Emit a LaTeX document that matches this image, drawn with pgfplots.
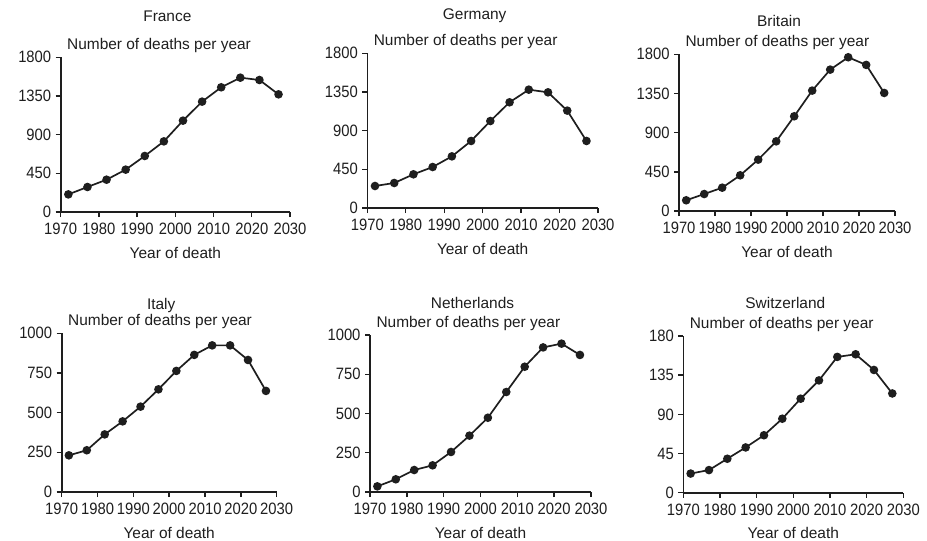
\documentclass[border=0pt]{standalone}
\usepackage{fontspec}
\setmainfont{Liberation Sans}
\newfontfamily\narrowfont[FakeStretch=0.9]{Liberation Sans}
\usepackage{pgfplots}
\pgfplotsset{compat=1.18}

\definecolor{ink}{HTML}{1E1E1E}

\pgfplotsset{
  panel/.style={
    scale only axis, anchor=south west, clip=false,
    axis x line=bottom, axis y line=left,
    axis line style={-, line width=1.6bp, ink},
    every tick/.style={line width=1.4bp, ink},
    tick align=outside, major tick length=5bp,
    xmin=1970, xmax=2030, ymin=0,
    xtick={1970,1980,...,2030},
    /pgf/number format/1000 sep={},
    /pgf/number format/assume math mode=true,
    font=\fontsize{15.5}{18}\selectfont,
    tick label style={font=\narrowfont\fontsize{16.5}{18}\selectfont, text=ink},
    xticklabel style={yshift=-2.5bp},
    yticklabel style={xshift=-1bp},
    every axis x label/.style={at={(rel axis cs:0.5,0)}, anchor=base, yshift=-46bp, text=ink},
    every axis y label/.style={at={(rel axis cs:0,1)}, anchor=base west, xshift=3bp, yshift=7.5bp, text=ink},
    every axis title/.style={at={(rel axis cs:0.5,1)}, anchor=base, xshift=-8bp, text=ink},
    xlabel={Year of death},
    ylabel={Number of deaths per year},
  },
  series/.style={ink, line width=1.7bp, mark=*, mark size=3.4bp,
    mark options={fill=ink, draw=ink}},
}

\begin{document}
\begin{tikzpicture}
\useasboundingbox (0,0) rectangle (927bp,-541bp);

% France
\begin{axis}[panel, at={(60.7bp,-212bp)}, width=229.3bp, height=154.7bp,
  ymax=1800, ytick={0,450,900,1350,1800},
  title={France}, title style={yshift=35.5bp}]
\addplot[series] coordinates {
 (1972,205) (1977,291) (1982,376) (1987,493) (1992,652) (1997,822)
 (2002,1063) (2007,1284) (2012,1451) (2017,1563) (2022,1536) (2027,1369) };
\end{axis}

% Germany
\begin{axis}[panel, at={(367.3bp,-208bp)}, width=230.7bp, height=154.7bp,
  ymax=1800, ytick={0,450,900,1350,1800},
  title={Germany}, title style={yshift=34bp}]
\addplot[series] coordinates {
 (1972,256) (1977,291) (1982,392) (1987,477) (1992,601) (1997,780)
 (2002,1012) (2007,1230) (2012,1377) (2017,1346) (2022,1133) (2027,780) };
\end{axis}

% Britain
\begin{axis}[panel, at={(679bp,-211bp)}, width=216bp, height=156.7bp,
  ymax=1800, ytick={0,450,900,1350,1800},
  title={Britain}, title style={yshift=27.6bp}]
\addplot[series] coordinates {
 (1972,123) (1977,195) (1982,268) (1987,410) (1992,590) (1997,800)
 (2002,1088) (2007,1383) (2012,1624) (2017,1766) (2022,1678) (2027,1356) };
\end{axis}

% Italy
\begin{axis}[panel, at={(61.7bp,-492bp)}, width=215bp, height=158.7bp,
  ymax=1000, ytick={0,250,500,750,1000},
  title={Italy}, title style={yshift=24bp}]
\addplot[series] coordinates {
 (1972,231) (1977,263) (1982,363) (1987,445) (1992,538) (1997,647)
 (2002,763) (2007,864) (2012,924) (2017,924) (2022,832) (2027,637) };
\end{axis}

% Netherlands
\begin{axis}[panel, at={(370bp,-492bp)}, width=221bp, height=157bp,
  ymax=1000, ytick={0,250,500,750,1000},
  title={Netherlands}, title style={yshift=26.7bp}]
\addplot[series] coordinates {
 (1972,36) (1977,81) (1982,140) (1987,170) (1992,255) (1997,359)
 (2002,473) (2007,637) (2012,798) (2017,921) (2022,945) (2027,873) };
\end{axis}

% Switzerland
\begin{axis}[panel, at={(683.3bp,-492.7bp)}, width=220bp, height=156.7bp,
  ymax=180, ytick={0,45,90,135,180},
  title={Switzerland}, title style={yshift=27.7bp}]
\addplot[series] coordinates {
 (1972,22) (1977,26) (1982,39) (1987,52) (1992,66) (1997,85)
 (2002,108) (2007,129) (2012,156) (2017,159) (2022,141) (2027,114) };
\end{axis}

\end{tikzpicture}
\end{document}
